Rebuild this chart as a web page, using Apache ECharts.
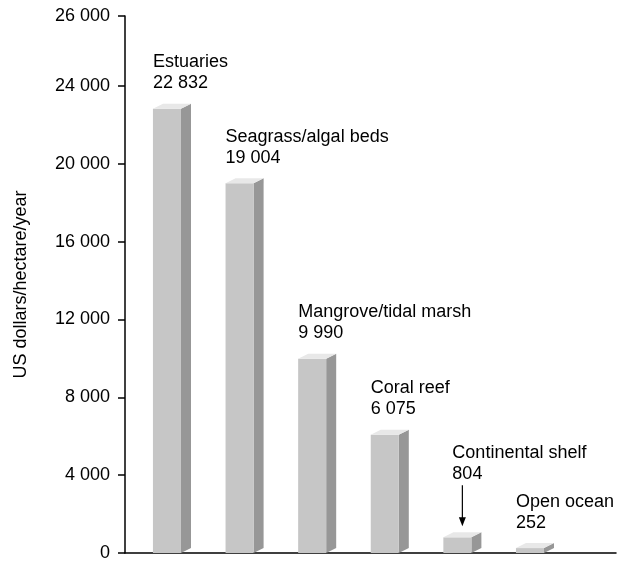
<!DOCTYPE html>
<html lang="en">
  <head>
    <meta charset="UTF-8" />
    <script src="https://cdn.jsdelivr.net/npm/echarts@6.0.0/dist/echarts.min.js"></script>
    <title>Ecosystem values</title>
    <style>
      body { margin: 0; background: #fff; }
      #container { width: 617px; height: 563px; }
    </style>
  </head>
  <body>
    <div id="container"></div>
    <script>
      const categories = ['Estuaries', 'Seagrass/algal beds', 'Mangrove/tidal marsh', 'Coral reef', 'Continental shelf', 'Open ocean'];
      const values = [22832, 19004, 9990, 6075, 804, 252];
      const valueLabels = ['22 832', '19 004', '9 990', '6 075', '804', '252'];
      const arrowed = ['Continental shelf'];
      const tickValues = [0, 4000, 8000, 12000, 16000, 20000, 24000, 27600];
      const tickLabels = ['0', '4 000', '8 000', '12 000', '16 000', '20 000', '24 000', '26 000'];

      const FONT = '18px "Liberation Sans", Arial, sans-serif';

      function renderBar(params, api) {
        const i = api.value(0);
        const v = api.value(1);
        const base = api.coord([i, 0]);
        const top = api.coord([i, v]);
        const unit = api.size([1, 0])[0];
        const fw = unit * 0.386;  // front face width
        const dx = unit * 0.138;  // depth
        const dy = 5;
        const x = base[0] - fw / 2;
        const y0 = base[1];
        const y1 = top[1];
        const children = [
          {
            type: 'polygon',
            shape: { points: [[x + fw, y1], [x + fw + dx, y1 - dy], [x + fw + dx, y0 - dy], [x + fw, y0]] },
            style: { fill: '#979797' }
          },
          {
            type: 'rect',
            shape: { x: x, y: y1, width: fw, height: y0 - y1 },
            style: { fill: '#c6c6c6' }
          },
          {
            type: 'polygon',
            shape: { points: [[x, y1], [x + dx, y1 - dy], [x + fw + dx, y1 - dy], [x + fw, y1]] },
            style: { fill: '#e8e8e8' }
          }
        ];
        const name = categories[params.dataIndex];
        const label = name + '\n' + valueLabels[params.dataIndex];
        if (arrowed.indexOf(name) >= 0) {
          const ax = x + fw / 2 + 5;
          children.push({
            type: 'line',
            shape: { x1: ax, y1: y1 - 52, x2: ax, y2: y1 - 18 },
            style: { stroke: '#000', lineWidth: 1.2 }
          });
          children.push({
            type: 'polygon',
            shape: { points: [[ax - 3.5, y1 - 20], [ax + 3.5, y1 - 20], [ax, y1 - 11]] },
            style: { fill: '#000' }
          });
          children.push({
            type: 'text',
            style: { text: label, x: x + 9, y: y1 - 53, font: FONT, fill: '#000', align: 'left', verticalAlign: 'bottom', lineHeight: 21 }
          });
        } else {
          children.push({
            type: 'text',
            style: { text: label, x: x, y: y1 - 15, font: FONT, fill: '#000', align: 'left', verticalAlign: 'bottom', lineHeight: 21 }
          });
        }
        return { type: 'group', children: children };
      }

      const chart = echarts.init(document.getElementById('container'), null, { renderer: 'canvas' });

      const option = {
        animation: false,
        grid: { left: 125, right: 1, top: 16, bottom: 10, containLabel: false },
        xAxis: {
          type: 'value',
          min: -0.578,
          max: 6.185,
          axisLine: { show: true, onZero: false, lineStyle: { color: '#000', width: 1.5 } },
          axisTick: { show: false },
          axisLabel: { show: false },
          splitLine: { show: false }
        },
        yAxis: {
          type: 'value',
          min: 0,
          max: 27600,
          name: 'US dollars/hectare/year',
          nameLocation: 'middle',
          nameGap: 95,
          nameTextStyle: { fontFamily: 'Liberation Sans', fontSize: 18, color: '#000' },
          axisLine: { show: true, onZero: false, lineStyle: { color: '#000', width: 1.5 } },
          axisTick: { show: true, length: 7, customValues: tickValues, lineStyle: { color: '#000', width: 1.5 } },
          axisLabel: {
            customValues: tickValues,
            margin: 15,
            fontFamily: 'Liberation Sans',
            fontSize: 18,
            color: '#000',
            formatter: function (val) {
              const k = tickValues.indexOf(val);
              return k >= 0 ? tickLabels[k] : '';
            }
          },
          splitLine: { show: false }
        },
        series: [
          {
            type: 'custom',
            clip: false,
            renderItem: renderBar,
            data: values.map((v, i) => [i, v])
          }
        ]
      };

      chart.setOption(option);
    </script>
  </body>
</html>
